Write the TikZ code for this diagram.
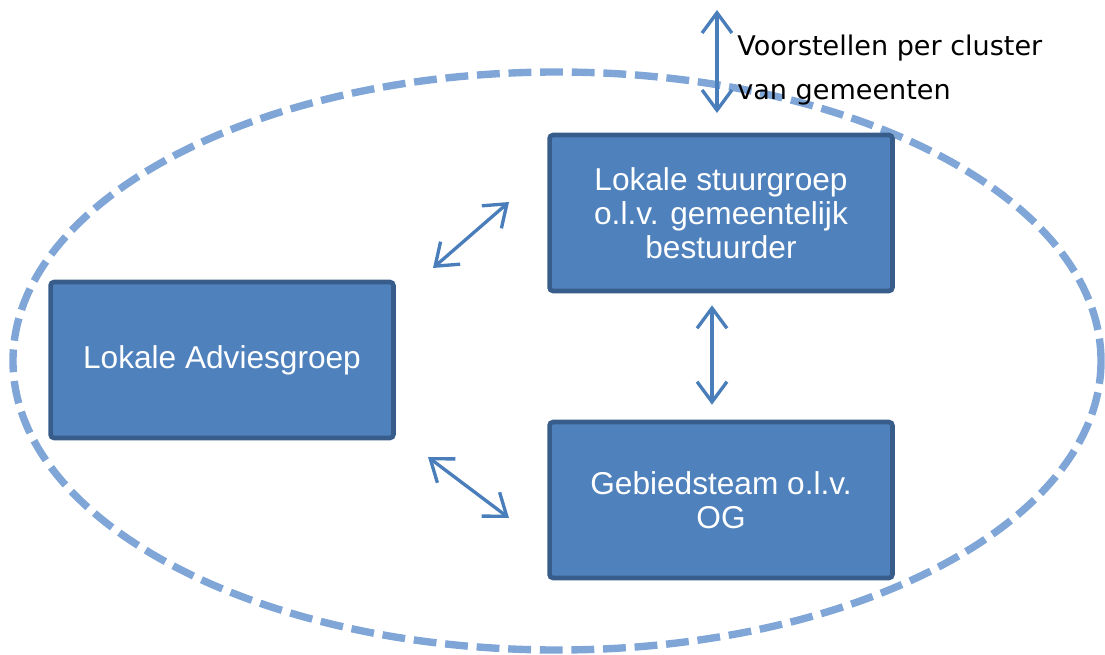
\documentclass[tikz,border=0pt]{standalone}
\usepackage{fontspec}
\setmainfont{Liberation Sans}
\newfontfamily\labelfont{DejaVu Sans}
\usepackage{tikz}
\usetikzlibrary{arrows.meta, positioning, calc}
\definecolor{boxblue}{RGB}{79,129,189}
\definecolor{boxedge}{RGB}{56,93,138}
\definecolor{arrowblue}{RGB}{74,126,187}
\definecolor{ringblue}{RGB}{128,166,216}

\begin{document}
\begin{tikzpicture}[x=0.02cm, y=-0.02cm,
	groepbox/.style={draw=boxedge, fill=boxblue, line width=2.6pt, rounded corners=2pt,
		minimum width=6.86cm, minimum height=3.12cm, text=white, align=center,
		font=\fontsize{18}{19.5}\selectfont},
	pijl/.style={draw=arrowblue, line width=1.9pt, {Straight Barb[length=11.5pt, width=17pt]}-{Straight Barb[length=11.5pt, width=17pt]}}]
	\useasboundingbox (0,0) rectangle (1105,655);
	
	%% dashed ring around the groups
	\pgfmathsetmacro{\ringx}{544}
	\pgfmathsetmacro{\ringy}{289}
	\draw[ringblue, line width=4.2pt, dash pattern=on 13pt off 5pt] (557,361) ellipse ({\ringx} and {\ringy});
	
	\node[groepbox] (stuur) at (721,213) {Lokale stuurgroep\\o.l.v. gemeentelijk\\bestuurder};
	\node[groepbox] (advies) at (222,360) {Lokale Adviesgroep};
	\node[groepbox] (gebied) at (721,500) {Gebiedsteam o.l.v.\\OG};
	
	%% proposals going in and out
	\coordinate (voorboven) at (717,10);
	\coordinate (voomonder) at (717,113);
	\draw[pijl] (voorboven) -- (voomonder);
	\node[anchor=west, align=left, inner sep=0pt, font=\labelfont\fontsize{15.4}{25.5}\selectfont] (voorstel) at (737,70) {Voorstellen per cluster\\van gemeenten};
	
	\draw[pijl, shorten <=0.24cm, shorten >=0.3cm] ([xshift=-0.18cm]stuur.south) -- ([xshift=-0.18cm]gebied.north);
	
	%% links with the advisory group
	\coordinate (adviesboven) at (433,268);
	\coordinate (stuurlinks) at (509,202);
	\draw[pijl] (adviesboven) -- (stuurlinks);
	\coordinate (adviesonder) at (428,457);
	\coordinate (gebiedlinks) at (509,518);
	\draw[pijl] (adviesonder) -- (gebiedlinks);
\end{tikzpicture}
\end{document}
